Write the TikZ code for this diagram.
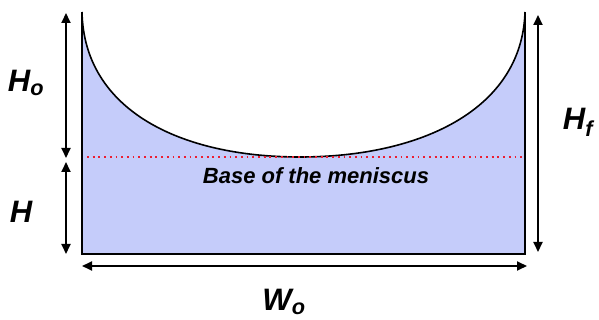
\documentclass[tikz,border=0pt]{standalone}
\usepackage{fontspec}
\setmainfont{Liberation Sans}
\usepackage{tikz}
\definecolor{liquidcolor}{RGB}{197, 204, 250}
\definecolor{basecolor}{RGB}{235, 30, 50}
\usetikzlibrary{arrows.meta, positioning, calc}

\begin{document}
\begin{tikzpicture}[x=1pt, y=-1pt,
    wall/.style={draw=black, line width=2pt},
    surface/.style={draw=black, line width=1.6pt},
    dimension/.style={line width=1.8pt, {Triangle[width=9pt,length=10pt]}-{Triangle[width=9pt,length=10pt]}},
    baseline/.style={draw=basecolor, line width=1.8pt, dash pattern=on 1.8pt off 3.9pt},
    dimlabel/.style={font=\fontsize{31}{33}\selectfont\bfseries\itshape, inner sep=0pt},
    baselabel/.style={font=\fontsize{22}{24}\selectfont\bfseries\itshape, inner sep=0pt}
]
    \useasboundingbox (0,0) rectangle (599,320);

    % Container corners
    \coordinate (tl) at (82,12);
    \coordinate (bl) at (82,254);
    \coordinate (br) at (525,254);
    \coordinate (tr) at (525,12);
    \coordinate (bottom) at (300,157);

    % Liquid with meniscus
    \fill[liquidcolor] (tl) -- (bl) -- (br) -- (tr)
        .. controls (522,110) and (420,157) .. (bottom)
        .. controls (180,157) and (84,110) .. (tl) -- cycle;
    \draw[surface] (tr) .. controls (522,110) and (420,157) .. (bottom)
        .. controls (180,157) and (84,110) .. (tl);
    \draw[wall] (tl) -- (bl) -- (br) -- (tr);

    % Base of the meniscus
    \coordinate (baseL) at (87,157);
    \coordinate (baseR) at (522,157);
    \draw[baseline] (baseL) -- (baseR);
    \node[baselabel] (basetext) at (316,176) {Base of the meniscus};

    % Left dimensions
    \coordinate (hoTop) at (66,13);
    \coordinate (hoBot) at (66,158);
    \coordinate (hTop) at (66,162);
    \coordinate (hBot) at (66,254);
    \draw[dimension] (hoTop) -- (hoBot);
    \draw[dimension] (hTop) -- (hBot);
    \node[dimlabel] (ho) at (26,83) {H\textsubscript{o}};
    \node[dimlabel] (h) at (21,212) {H};

    % Right dimension
    \coordinate (hfTop) at (538,15);
    \coordinate (hfBot) at (538,252);
    \draw[dimension] (hfTop) -- (hfBot);
    \node[dimlabel] (hf) at (578,122) {H\textsubscript{f}};

    % Bottom dimension
    \coordinate (woL) at (82,266);
    \coordinate (woR) at (527,266);
    \draw[dimension] (woL) -- (woR);
    \node[dimlabel] (wo) at (284,302) {W\textsubscript{o}};
\end{tikzpicture}
\end{document}
